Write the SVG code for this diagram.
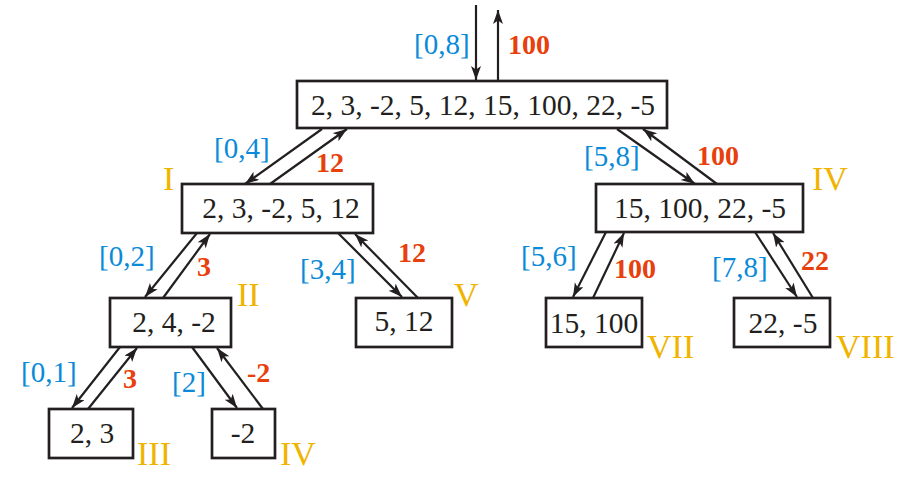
<svg xmlns="http://www.w3.org/2000/svg" width="913" height="478" viewBox="0 0 913 478">
<style>
.box{fill:#fff;stroke:#231f20;stroke-width:2.7}
.nt{font-family:"Liberation Serif",serif;font-size:29.5px;fill:#231f20;text-anchor:middle}
.bl{font-family:"Liberation Serif",serif;font-size:29px;fill:#0a8ad8}
.rd{font-family:"Liberation Serif",serif;font-size:28px;font-weight:bold;fill:#e8400c}
.rm{font-family:"Liberation Serif",serif;font-size:34px;fill:#f0b400}
.ln{stroke:#231f20;stroke-width:2.2;fill:none;marker-end:url(#ah)}
</style>
<defs>
<marker id="ah" markerUnits="userSpaceOnUse" markerWidth="16" markerHeight="12" refX="14" refY="5" orient="auto">
<path d="M0,0 L14,5 L0,10 L3.5,5 z" fill="#231f20"/>
</marker>
</defs>
<g id="connectors">
<line class="ln" x1="476" y1="5" x2="476" y2="80"/>
<line class="ln" x1="498" y1="81" x2="498" y2="10"/>
<line class="ln" x1="322" y1="129" x2="245" y2="184"/>
<line class="ln" x1="270" y1="184" x2="347" y2="129"/>
<line class="ln" x1="617" y1="129" x2="695" y2="184"/>
<line class="ln" x1="717" y1="184" x2="643" y2="129"/>
<line class="ln" x1="197" y1="233" x2="145" y2="297"/>
<line class="ln" x1="163" y1="298" x2="210" y2="234"/>
<line class="ln" x1="338" y1="233" x2="402" y2="297"/>
<line class="ln" x1="418" y1="298" x2="355" y2="234"/>
<line class="ln" x1="120" y1="347" x2="72" y2="408"/>
<line class="ln" x1="88" y1="409" x2="137" y2="348"/>
<line class="ln" x1="192" y1="347" x2="237" y2="408"/>
<line class="ln" x1="263" y1="409" x2="217" y2="348"/>
<line class="ln" x1="606" y1="232" x2="573" y2="297"/>
<line class="ln" x1="593" y1="298" x2="624" y2="233"/>
<line class="ln" x1="755" y1="232" x2="797" y2="297"/>
<line class="ln" x1="813" y1="298" x2="773" y2="233"/>
</g>
<g id="edge-labels">
<text class="bl" x="414" y="54">[0,8]</text>
<text class="rd" x="508" y="54">100</text>
<text class="bl" x="214" y="158">[0,4]</text>
<text class="rd" x="316" y="172">12</text>
<text class="bl" x="584" y="166">[5,8]</text>
<text class="rd" x="697" y="165">100</text>
<text class="bl" x="99" y="266">[0,2]</text>
<text class="rd" x="197" y="276">3</text>
<text class="bl" x="300" y="279">[3,4]</text>
<text class="rd" x="398" y="262">12</text>
<text class="bl" x="21" y="382">[0,1]</text>
<text class="rd" x="123" y="388">3</text>
<text class="bl" x="172" y="392">[2]</text>
<text class="rd" x="247" y="382">-2</text>
<text class="bl" x="521" y="266">[5,6]</text>
<text class="rd" x="614" y="278">100</text>
<text class="bl" x="712" y="277">[7,8]</text>
<text class="rd" x="801" y="270">22</text>
</g>
<g id="root">
<rect class="box" x="297" y="81" width="370" height="47"/>
<text class="nt" x="483" y="115">2, 3, -2, 5, 12, 15, 100, 22, -5</text>
</g>
<g id="node-I">
<rect class="box" x="182" y="184" width="191" height="49"/>
<text class="nt" x="281" y="218">2, 3, -2, 5, 12</text>
<text class="rm" x="163" y="190">I</text>
</g>
<g id="node-IV-top">
<rect class="box" x="596" y="184" width="207" height="48"/>
<text class="nt" x="700" y="218">15, 100, 22, -5</text>
<text class="rm" x="812" y="190">IV</text>
</g>
<g id="node-II">
<rect class="box" x="110" y="298" width="121" height="49"/>
<text class="nt" x="174" y="332">2, 4, -2</text>
<text class="rm" x="237" y="306">II</text>
</g>
<g id="node-V">
<rect class="box" x="356" y="298" width="96" height="49"/>
<text class="nt" x="404" y="331">5, 12</text>
<text class="rm" x="454" y="306">V</text>
</g>
<g id="node-III">
<rect class="box" x="49" y="409" width="84" height="49"/>
<text class="nt" x="92" y="443">2, 3</text>
<text class="rm" x="137" y="465">III</text>
</g>
<g id="node-IV-bottom">
<rect class="box" x="212" y="409" width="63" height="49"/>
<text class="nt" x="243" y="443">-2</text>
<text class="rm" x="280" y="465">IV</text>
</g>
<g id="node-VII">
<rect class="box" x="546" y="298" width="96" height="49"/>
<text class="nt" x="594" y="333">15, 100</text>
<text class="rm" x="647" y="358">VII</text>
</g>
<g id="node-VIII">
<rect class="box" x="734" y="298" width="96" height="49"/>
<text class="nt" x="783" y="333">22, -5</text>
<text class="rm" x="836" y="358">VIII</text>
</g>
</svg>
